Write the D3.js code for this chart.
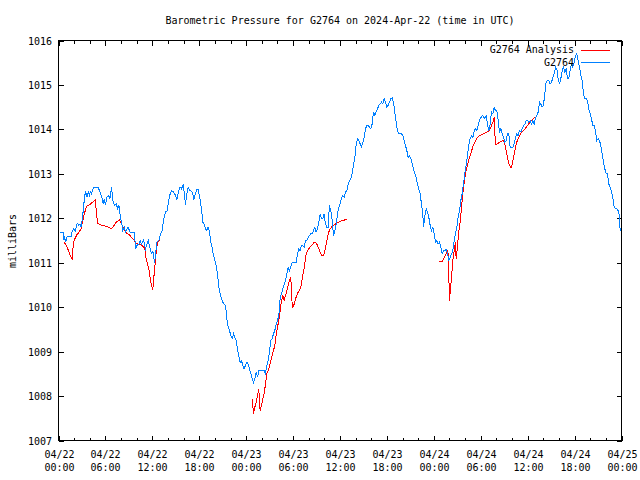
<!DOCTYPE html>
<html>
<head>
<meta charset="utf-8">
<script src="https://cdn.jsdelivr.net/npm/d3@7"></script>
<style>
  html, body { margin: 0; padding: 0; background: #fff; }
  svg { display: block; }
  text { font-family: "DejaVu Sans Mono", "Liberation Mono", monospace; font-size: 10px; fill: #000; }
</style>
</head>
<body>
<svg id="chart" width="640" height="480"></svg>
<script>
// ---- data (hours since 2024-04-22 00:00 UTC, pressure in mb) ----
const startTime = Date.UTC(2024, 3, 22, 0, 0);
const endTime = Date.UTC(2024, 3, 25, 0, 0);

const obsHours = [
  0.22,0.64,0.70,0.77,0.90,0.98,1.11,1.62,1.75,1.92,2.14,2.39,2.60,2.77,2.90,3.03,3.12,3.24,3.37,3.46,
  3.63,3.80,3.97,4.10,4.22,4.48,5.03,5.25,5.55,5.72,5.84,6.01,6.19,6.44,6.57,6.78,6.95,7.17,7.38,7.59,
  7.72,7.89,8.06,8.23,8.40,8.57,8.87,9.17,9.72,9.85,10.02,10.28,10.45,10.62,10.87,11.13,11.47,11.77,11.94,12.07,
  12.28,12.41,12.58,12.83,13.05,13.26,13.43,13.69,13.91,14.08,14.28,14.50,14.71,14.92,15.14,15.35,15.56,15.73,15.95,16.24,
  16.41,16.58,16.76,17.01,17.18,17.31,17.48,17.73,
  17.86,18.07,18.29,18.46,18.63,18.80,18.97,19.14,19.31,19.48,19.65,19.82,20.01,20.20,20.33,20.50,20.67,20.84,21.01,21.18,
  21.36,21.53,21.70,21.87,22.04,22.21,22.38,22.55,22.72,22.89,23.06,23.23,23.40,23.57,23.74,23.91,24.08,24.25,24.42,24.60,
  24.77,24.94,25.11,25.28,25.45,25.62,25.79,26.30,26.47,26.64,26.81,26.98,27.15,27.32,27.49,27.66,27.83,28.00,28.18,28.35,
  28.52,28.69,28.86,29.03,29.20,29.37,29.54,29.71,29.88,30.39,30.56,30.73,30.90,31.07,31.24,31.41,31.59,31.76,31.93,32.10,
  32.27,32.44,32.61,32.78,32.95,33.12,33.29,33.46,33.63,33.80,33.97,34.14,34.31,34.48,34.65,34.82,35.00,35.17,35.34,35.51,
  35.68,35.85,
  36.02,36.19,36.36,36.53,36.70,36.87,37.04,37.21,37.38,37.55,37.73,37.90,38.07,38.24,38.41,38.58,38.75,38.92,39.09,39.26,
  39.43,39.60,39.77,39.94,40.11,40.28,40.45,40.62,40.79,40.96,41.14,41.31,41.48,41.65,41.82,41.99,42.16,42.33,42.50,42.67,
  42.84,43.01,43.18,43.35,43.52,43.86,44.03,44.20,44.37,44.55,44.72,44.89,45.06,45.23,45.40,45.57,45.74,45.91,46.08,46.25,
  46.42,46.59,46.68,46.85,47.02,47.19,47.36,47.53,47.70,47.87,48.04,48.21,48.38,48.55,48.72,48.89,49.06,49.23,49.40,49.57,
  49.75,49.92,50.09,50.26,50.43,50.60,50.77,50.94,51.11,51.28,51.45,51.62,51.79,51.96,52.13,52.30,52.47,52.64,52.81,52.99,
  53.16,53.33,53.50,53.67,53.84,
  54.18,54.35,54.52,54.69,54.86,55.03,55.20,55.37,55.54,55.71,55.88,56.06,56.23,56.40,56.57,56.74,56.91,57.08,57.25,57.42,
  57.59,57.76,58.10,58.27,58.44,58.61,58.78,58.95,59.12,59.30,59.47,59.64,59.81,59.98,60.15,60.32,60.49,60.66,60.83,61.00,
  61.17,61.34,61.51,61.68,61.85,62.02,62.19,62.36,62.53,62.71,62.88,63.05,63.22,63.39,63.56,63.73,63.90,64.07,64.24,64.41,
  64.58,64.75,64.92,65.09,65.26,65.43,65.60,65.77,65.95,66.12,66.29,66.46,66.63,66.80,66.97,67.14,67.31,67.48,67.65,67.82,
  67.99,68.16,68.33,68.50,68.67,68.84,69.01,69.18,69.35,69.53,69.70,69.87,70.04,70.21,70.38,70.55,70.72,70.89,71.06,71.23,
  71.40,71.57,71.74,71.83
];
const obsPressure = [
  1011.69,1011.69,1011.51,1011.61,1011.46,1011.51,1011.60,1011.60,1011.70,1011.76,1011.71,1011.89,1011.84,1011.87,1011.80,1011.96,1012.10,1012.32,1012.51,1012.62,
  1012.47,1012.59,1012.51,1012.62,1012.55,1012.70,1012.70,1012.62,1012.47,1012.32,1012.44,1012.29,1012.47,1012.51,1012.44,1012.70,1012.40,1012.29,1012.32,1012.21,
  1012.29,1012.06,1011.91,1011.72,1011.80,1011.69,1011.80,1011.69,1011.69,1011.31,1011.39,1011.42,1011.50,1011.42,1011.51,1011.31,1011.51,1011.27,1011.20,1011.27,
  1010.99,1011.20,1011.46,1011.50,1011.65,1011.72,1011.95,1012.14,1012.17,1012.40,1012.55,1012.62,1012.59,1012.53,1012.41,1012.62,1012.70,1012.66,1012.77,1012.31,
  1012.55,1012.70,1012.62,1012.61,1012.55,1012.41,1012.55,1012.66,
  1012.64,1012.47,1012.21,1011.91,1011.87,1011.76,1011.72,1011.80,1011.69,1011.46,1011.35,1011.16,1011.05,1010.90,1010.75,1010.45,1010.30,1010.19,1010.11,1010.07,
  1010.04,1009.74,1009.55,1009.47,1009.36,1009.29,1009.40,1009.32,1009.25,1009.06,1008.91,1008.76,1008.80,1008.69,1008.61,1008.69,1008.76,1008.72,1008.61,1008.50,
  1008.39,1008.31,1008.39,1008.54,1008.42,1008.57,1008.57,1008.57,1008.50,1008.69,1008.80,1008.99,1009.25,1009.29,1009.40,1009.47,1009.62,1009.70,1009.81,1010.22,
  1010.30,1010.41,1010.52,1010.60,1010.75,1010.90,1010.82,1010.90,1011.01,1011.01,1011.20,1011.31,1011.27,1011.39,1011.39,1011.35,1011.50,1011.50,1011.57,1011.61,
  1011.65,1011.65,1011.72,1011.80,1011.69,1011.76,1011.91,1012.10,1011.99,1011.99,1012.10,1011.87,1011.80,1011.80,1012.29,1012.17,1011.95,1011.61,1011.72,1011.87,
  1012.10,1012.25,
  1012.32,1012.47,1012.51,1012.47,1012.59,1012.62,1012.77,1012.85,1012.89,1013.00,1013.22,1013.37,1013.67,1013.79,1013.75,1013.67,1013.61,1013.71,1013.82,1014.01,
  1014.09,1014.09,1014.05,1014.01,1014.12,1014.39,1014.31,1014.39,1014.46,1014.54,1014.57,1014.61,1014.57,1014.69,1014.61,1014.50,1014.54,1014.61,1014.69,1014.71,
  1014.61,1014.39,1014.16,1013.97,1013.90,1013.90,1013.86,1013.75,1013.64,1013.52,1013.37,1013.41,1013.34,1013.22,1013.11,1013.00,1012.92,1012.77,1012.66,1012.55,
  1012.32,1012.10,1011.80,1012.06,1012.21,1012.14,1012.02,1011.84,1011.72,1011.80,1011.65,1011.46,1011.50,1011.42,1011.46,1011.35,1011.20,1011.27,1011.27,1011.31,
  1011.20,1011.05,1011.12,1011.20,1011.27,1011.50,1011.65,1011.80,1012.02,1012.17,1012.40,1012.55,1012.77,1013.00,1013.19,1013.41,1013.64,1013.79,1013.86,1013.82,
  1013.97,1014.01,1013.97,1014.09,1014.21,
  1014.31,1014.29,1014.24,1014.31,1014.12,1013.97,1014.12,1014.39,1014.35,1014.50,1014.42,1014.42,1014.20,1013.94,1014.01,1013.90,1013.82,1013.71,1013.75,1013.90,
  1013.90,1013.60,1013.60,1013.67,1013.82,1013.90,1013.86,1013.97,1013.94,1014.01,1014.09,1014.12,1014.20,1014.20,1014.16,1014.20,1014.12,1014.20,1014.12,1014.27,
  1014.31,1014.39,1014.61,1014.57,1014.50,1014.54,1014.80,1015.06,1015.10,1015.10,1015.02,1015.06,1015.17,1015.25,1015.40,1015.36,1015.14,1015.02,1015.14,1015.32,
  1015.40,1015.29,1015.36,1015.14,1015.14,1015.32,1015.47,1015.40,1015.51,1015.66,1015.70,1015.55,1015.40,1015.21,1015.10,1014.80,1014.69,1014.69,1014.65,1014.46,
  1014.35,1014.24,1014.09,1014.09,1013.97,1013.75,1013.79,1013.75,1013.64,1013.45,1013.26,1013.11,1013.00,1013.00,1012.77,1012.70,1012.59,1012.47,1012.25,1012.21,
  1012.21,1012.17,1012.06,1011.72
];

// analysis series; null marks a gap between runs
const anaHours = [
  0.73,0.98,1.24,1.50,1.75,1.84,2.01,2.18,2.35,2.52,2.69,2.86,3.03,3.20,3.37,3.54,3.71,3.97,4.22,4.48,
  4.74,4.82,4.99,5.25,5.50,6.10,6.36,6.61,6.87,7.12,7.29,7.55,7.80,7.97,8.14,8.40,8.66,8.83,9.08,9.34,
  9.60,9.85,10.11,10.36,10.62,10.87,11.04,11.21,11.38,11.55,11.72,11.89,12.06,12.15,12.32,12.41,12.58,12.75,12.92,
  18.0,
  24.77,24.94,25.11,25.28,25.45,25.62,25.70,25.79,25.96,26.13,26.30,26.47,26.64,26.81,26.98,27.15,27.32,27.49,27.66,27.83,
  28.00,28.18,28.35,28.52,28.69,28.86,29.03,29.20,29.37,29.54,29.71,29.88,29.97,30.14,30.31,30.48,30.65,30.82,30.99,31.16,
  31.33,31.50,31.67,31.84,32.01,32.18,32.35,32.52,32.69,32.86,33.03,33.21,33.38,33.55,33.72,33.89,34.06,34.23,34.40,34.57,
  34.74,34.91,35.25,35.59,35.93,36.27,36.45,36.96,
  42.0,
  48.72,49.06,49.32,49.57,49.79,49.87,50.00,50.17,50.30,50.43,50.64,50.77,50.85,51.02,51.15,51.37,51.54,51.71,51.92,52.13,
  52.35,52.56,52.73,52.98,53.24,53.50,53.84,54.35,54.78,55.12,55.37,55.63,55.71,55.88,56.23,56.57,56.82,57.00,57.16,57.33,
  57.50,57.68,57.85,57.93,58.02,58.19,58.36,58.53,58.70,58.87,59.04,59.21,59.47,59.72,59.98,60.23,60.49,60.74,61.00
];
const anaPressure = [
  1011.46,1011.39,1011.29,1011.16,1011.09,1011.31,1011.51,1011.57,1011.63,1011.66,1011.71,1011.74,1011.89,1012.02,1012.14,1012.25,1012.29,1012.30,1012.34,1012.38,
  1012.41,1012.17,1011.89,1011.86,1011.84,1011.82,1011.80,1011.78,1011.78,1011.84,1011.90,1011.93,1011.96,1011.91,1011.84,1011.76,1011.67,1011.65,1011.63,1011.57,
  1011.52,1011.45,1011.42,1011.41,1011.39,1011.36,1011.31,1011.09,1010.97,1010.86,1010.67,1010.49,1010.39,1010.60,1010.90,1011.12,1011.35,1011.50,1011.51,
  null,
  1007.94,1007.60,1007.75,1007.86,1008.01,1008.16,1007.86,1007.67,1007.79,1007.94,1008.05,1008.27,1008.50,1008.57,1008.65,1008.80,1008.91,1009.02,1009.14,1009.36,
  1009.55,1009.70,1009.92,1010.15,1010.26,1010.16,1010.26,1010.37,1010.49,1010.60,1010.66,1010.07,1010.00,1010.07,1010.19,1010.26,1010.34,1010.37,1010.45,1010.64,
  1010.79,1010.97,1011.20,1011.27,1011.31,1011.35,1011.39,1011.42,1011.46,1011.46,1011.42,1011.35,1011.27,1011.20,1011.16,1011.16,1011.27,1011.42,1011.57,1011.69,
  1011.76,1011.80,1011.85,1011.89,1011.92,1011.95,1011.95,1011.99,
  null,
  1011.03,1011.03,1011.12,1011.20,1011.29,1011.01,1010.15,1010.49,1010.75,1011.05,1011.31,1011.46,1011.09,1011.35,1011.65,1011.91,1012.25,1012.55,1012.85,1013.07,
  1013.22,1013.37,1013.45,1013.61,1013.71,1013.80,1013.86,1013.90,1013.94,1013.97,1014.09,1014.20,1014.27,1013.65,1013.69,1013.73,1013.75,1013.73,1013.60,1013.45,
  1013.30,1013.19,1013.13,1013.15,1013.22,1013.37,1013.52,1013.67,1013.76,1013.82,1013.88,1013.94,1013.97,1014.03,1014.09,1014.14,1014.20,1014.24,1014.29
];

const yTicks = [1007, 1008, 1009, 1010, 1011, 1012, 1013, 1014, 1015, 1016];
const xMajorHours = [0, 6, 12, 18, 24, 30, 36, 42, 48, 54, 60, 66, 72];
const xMinorHours = [2, 4, 8, 10, 14, 16, 20, 22, 26, 28, 32, 34, 38, 40, 44, 46, 50, 52, 56, 58, 62, 64, 68, 70];

const titleText = "Barometric Pressure for G2764 on 2024-Apr-22 (time in UTC)";
const yLabelText = "milliBars";
const seriesNames = ["G2764 Analysis", "G2764"];
const seriesColors = ["#ff0000", "#0080ff"];

// ---- drawing ----
const svg = d3.select("#chart");
const L = 58.5, R = 621.5, T = 40.5, B = 440.5;

const toDate = h => new Date(startTime + h * 3600e3);
const x = d3.scaleUtc().domain([new Date(startTime), new Date(endTime)]).range([L, R]);
const y = d3.scaleLinear().domain([1007, 1016]).range([B, T]);

svg.append("rect").attr("width", 640).attr("height", 480).attr("fill", "#fff");

const g = svg.append("g").attr("shape-rendering", "crispEdges");

const majLen = 5, minLen = 3;
yTicks.forEach(v => {
  const yy = Math.round(y(v)) + 0.5;
  g.append("line").attr("x1", L).attr("x2", L + majLen).attr("y1", yy).attr("y2", yy).attr("stroke", "#000");
  g.append("line").attr("x1", R).attr("x2", R - majLen).attr("y1", yy).attr("y2", yy).attr("stroke", "#000");
  svg.append("text").attr("x", 52).attr("y", yy).attr("dy", "0.35em").attr("text-anchor", "end").text(v);
});

const fmtDay = d3.utcFormat("%m/%d"), fmtTime = d3.utcFormat("%H:%M");
xMajorHours.forEach(h => {
  const xx = Math.round(x(toDate(h))) + 0.5;
  g.append("line").attr("x1", xx).attr("x2", xx).attr("y1", B).attr("y2", B - majLen).attr("stroke", "#000");
  g.append("line").attr("x1", xx).attr("x2", xx).attr("y1", T).attr("y2", T + majLen).attr("stroke", "#000");
  const t = svg.append("text").attr("x", xx).attr("text-anchor", "middle");
  t.append("tspan").attr("x", xx).attr("y", 458).text(fmtDay(toDate(h)));
  t.append("tspan").attr("x", xx).attr("y", 471).text(fmtTime(toDate(h)));
});
xMinorHours.forEach(h => {
  const xx = Math.round(x(toDate(h))) + 0.5;
  g.append("line").attr("x1", xx).attr("x2", xx).attr("y1", B).attr("y2", B - minLen).attr("stroke", "#000");
  g.append("line").attr("x1", xx).attr("x2", xx).attr("y1", T).attr("y2", T + minLen).attr("stroke", "#000");
});

g.append("rect").attr("x", L).attr("y", T).attr("width", R - L).attr("height", B - T)
  .attr("fill", "none").attr("stroke", "#000");

const line = d3.line()
  .defined(d => d[1] !== null)
  .x(d => x(toDate(d[0])))
  .y(d => y(d[1]));

const anaData = anaHours.map((h, i) => [h, anaPressure[i]]);
const obsData = obsHours.map((h, i) => [h, obsPressure[i]]);

svg.append("path").attr("d", line(anaData)).attr("fill", "none")
  .attr("stroke", seriesColors[0]).attr("stroke-width", 1).attr("shape-rendering", "crispEdges");
svg.append("path").attr("d", line(obsData)).attr("fill", "none")
  .attr("stroke", seriesColors[1]).attr("stroke-width", 1).attr("shape-rendering", "crispEdges");

svg.append("text").attr("x", (L + R) / 2).attr("y", 20).attr("dy", "0.35em")
  .attr("text-anchor", "middle").text(titleText);
svg.append("text").attr("transform", "translate(12,241) rotate(-90)").attr("dy", "0.35em")
  .attr("text-anchor", "middle").text(yLabelText);

seriesNames.forEach((name, i) => {
  const ly = 49.5 + i * 12.5;
  svg.append("text").attr("x", 574).attr("y", ly).attr("dy", "0.35em").attr("text-anchor", "end").text(name);
  svg.append("line").attr("x1", 581).attr("x2", 610).attr("y1", Math.round(ly) + 0.5).attr("y2", Math.round(ly) + 0.5)
    .attr("stroke", seriesColors[i]).attr("shape-rendering", "crispEdges");
});
</script>
</body>
</html>
